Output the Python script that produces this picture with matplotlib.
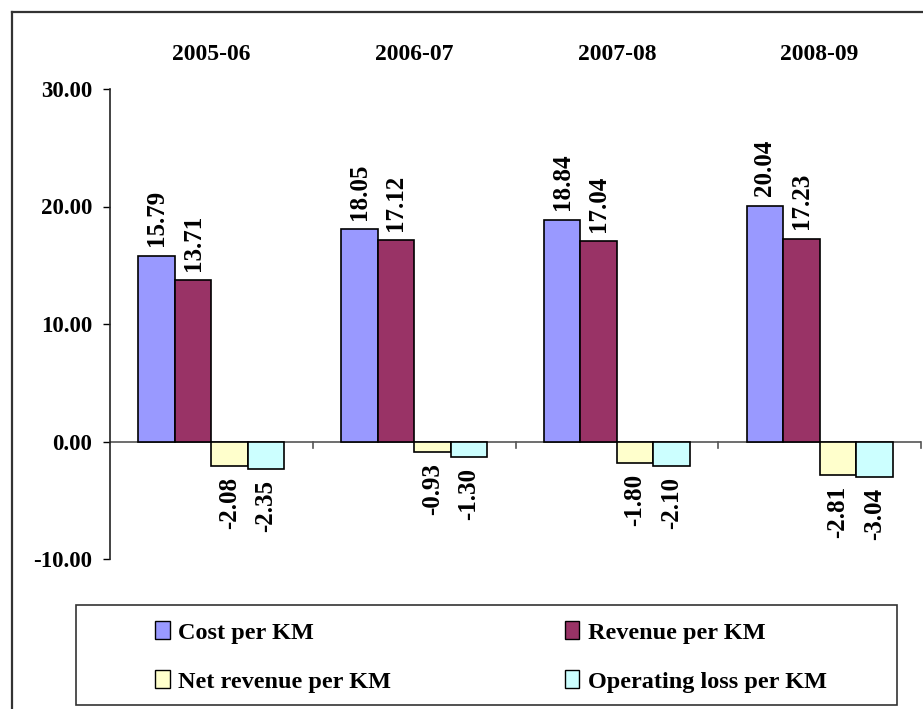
import matplotlib
matplotlib.use("Agg")
import matplotlib.pyplot as plt
import matplotlib.transforms as mtransforms
from matplotlib.lines import Line2D
from matplotlib.patches import Rectangle
import numpy as np

categories = ["2005-06", "2006-07", "2007-08", "2008-09"]
cost = [15.79, 18.05, 18.84, 20.04]
revenue = [13.71, 17.12, 17.04, 17.23]
net_revenue = [-2.08, -0.93, -1.80, -2.81]
operating_loss = [-2.35, -1.30, -2.10, -3.04]
series_names = ["Cost per KM", "Revenue per KM", "Net revenue per KM", "Operating loss per KM"]
colors = ["#9999FF", "#993366", "#FFFFCC", "#CCFFFF"]
yticks = [-10, 0, 10, 20, 30]

plt.rcParams['font.family'] = ['Liberation Serif', 'DejaVu Serif']
plt.rcParams['font.weight'] = 'bold'

fig = plt.figure(figsize=(9.23, 7.09), dpi=100)
ax = fig.add_axes([110/923, 1-559/709, (921-110)/923, (559-89)/709])

series = [cost, revenue, net_revenue, operating_loss]
x = np.arange(len(categories))
w = 0.18
offsets = [-1.5*w, -0.5*w, 0.5*w, 1.5*w]
bars_all = []
for vals, off, col, name in zip(series, offsets, colors, series_names):
    bars = ax.bar(x + off, vals, width=w, color=col, edgecolor='black',
                  linewidth=1.2, label=name, zorder=3)
    bars_all.append(bars)
    for b, v in zip(bars, vals):
        if v >= 0:
            ax.annotate(f"{v:.2f}", (b.get_x() + b.get_width()/2, v),
                        xytext=(0, 7), textcoords='offset points',
                        rotation=90, ha='center', va='bottom',
                        fontsize=18, fontweight='bold')
        else:
            ax.annotate(f"{v:.2f}", (b.get_x() + b.get_width()/2, v),
                        xytext=(0, -8), textcoords='offset points',
                        rotation=90, ha='center', va='top',
                        fontsize=18, fontweight='bold')

ax.set_xlim(-0.5, len(categories) - 0.5)
ax.set_ylim(-10, 30)
ax.set_yticks(yticks)
ax.set_yticklabels([f"{t:.2f}" for t in yticks], fontsize=16.5, fontweight='bold')
ax.tick_params(axis='y', direction='out', length=5, width=1, pad=8, color='black')

for s in ['top', 'right', 'bottom']:
    ax.spines[s].set_visible(False)
ax.spines['left'].set_linewidth(1.2)
ax.spines['left'].set_color('#222222')

# zero line and category separator ticks
ax.axhline(0, color='#555555', linewidth=1.2, zorder=2)
ax.set_xticks([])
for b in np.arange(0.5, len(categories), 1.0):
    ax.plot([b, b], [0, -0.55], color='#555555', linewidth=1.2, zorder=2, clip_on=False)

# category labels on top
for i, c in enumerate(categories):
    ax.annotate(c, (i, 1.0), xycoords=mtransforms.blended_transform_factory(ax.transData, ax.transAxes),
                xytext=(0, 25), textcoords='offset points', ha='center', va='center',
                fontsize=17, fontweight='bold', annotation_clip=False)

# legend box
fig.add_artist(Rectangle((76/923, 1-705/709), (897-76)/923, 100/709,
                         transform=fig.transFigure, fill=False,
                         edgecolor='#333333', linewidth=1.2))
order = [0, 2, 1, 3]
leg = fig.legend(handles=[bars_all[i] for i in order], labels=[series_names[i] for i in order],
                 ncol=2, loc='center left', bbox_to_anchor=(155/923, 1-657/709),
                 frameon=False, borderpad=0.0, borderaxespad=0.0,
                 handlelength=0.6, handleheight=0.75, handletextpad=0.35,
                 labelspacing=1.1, columnspacing=7.15,
                 prop={'weight': 'bold', 'size': 17.5})
for h in leg.legend_handles:
    h.set_linewidth(1.0)

# outer frame (cropped chart area)
fig.add_artist(Line2D([12/923, 12/923], [0, 1-12/709], transform=fig.transFigure,
                      color='#333333', linewidth=1.6))
fig.add_artist(Line2D([12/923, 1], [1-12/709, 1-12/709], transform=fig.transFigure,
                      color='#333333', linewidth=1.6))

fig.savefig("out.png", dpi=100)
